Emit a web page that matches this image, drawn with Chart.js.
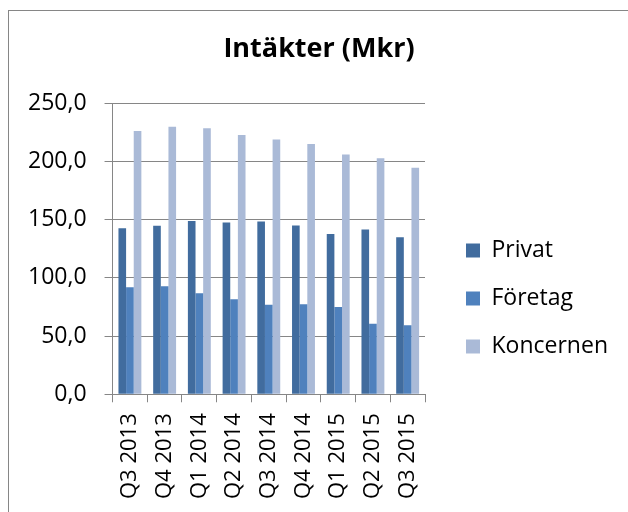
<!DOCTYPE html>
<html>
<head>
<meta charset="utf-8">
<script src="https://cdn.jsdelivr.net/npm/chart.js@4.4.0/dist/chart.umd.min.js"></script>
<style>
  html, body { margin: 0; padding: 0; background: #fff; }
  #wrap { width: 628px; height: 512px; }
</style>
</head>
<body>
<div id="wrap"><canvas id="intakter" width="628" height="512"></canvas></div>
<script>
// kvartal och intäkter i Mkr
const kvartal = ["Q3 2013", "Q4 2013", "Q1 2014", "Q2 2014", "Q3 2014", "Q4 2014", "Q1 2015", "Q2 2015", "Q3 2015"]
const privat = [142.6, 144.9, 148.9, 147.7, 148.6, 145.1, 137.7, 141.7, 134.9]
const foretag = [92.0, 92.9, 86.9, 81.7, 76.9, 77.4, 75.1, 60.6, 59.4]
const koncernen = [226.3, 230.0, 228.6, 222.9, 218.9, 215.1, 206.0, 202.9, 194.6]
const yTicks = [0, 50, 100, 150, 200, 250]

const gra = '#868686'
const typsnitt = '"Open Sans", "Noto Sans", sans-serif'

/* ram runt diagrammet */
const ram = {
  id: 'ram',
  beforeDraw(chart) {
    const ctx = chart.ctx
    ctx.save()
    ctx.fillStyle = '#fff'
    ctx.fillRect(0, 0, chart.width, chart.height)
    ctx.strokeStyle = gra
    ctx.lineWidth = 1
    ctx.strokeRect(8.5, 10.5, 800, 800)
    ctx.restore()
  }
}

/* flytta förklaringen dit den står i originalet */
const flyttaLegend = {
  id: 'flyttaLegend',
  afterLayout(chart) {
    const lg = chart.legend
    const h = lg.bottom - lg.top
    lg.left = 441
    lg.right = 628
    lg.top = 214
    lg.bottom = 214 + h
  }
}

const data = {
  labels: kvartal,
  datasets: [
    { label: 'Privat', data: privat, backgroundColor: '#416C9E' },
    { label: 'Företag', data: foretag, backgroundColor: '#4F81BD' },
    { label: 'Koncernen', data: koncernen, backgroundColor: '#AABAD7' }
  ]
}

const config = {
  type: 'bar',
  data: data,
  plugins: [ram, flyttaLegend],
  options: {
    responsive: false,
    animation: false,
    events: [],
    datasets: { bar: { categoryPercentage: 0.66, barPercentage: 1.0 } },
    layout: { padding: { left: 10, right: 0, top: 0, bottom: 2 } },
    plugins: {
      tooltip: { enabled: false },
      title: {
        display: true,
        text: 'Intäkter (Mkr)',
        color: '#000',
        font: { family: typsnitt, size: 27, weight: 'bold' },
        padding: { top: 33, bottom: 38 }
      },
      legend: {
        position: 'right',
        align: 'start',
        maxWidth: 160,
        labels: {
          color: '#000',
          font: { family: typsnitt, size: 23 },
          boxWidth: 14,
          boxHeight: 14,
          padding: 25
        }
      }
    },
    scales: {
      x: {
        grid: { drawOnChartArea: false, drawTicks: true, tickLength: 8, color: gra },
        border: { color: gra },
        ticks: {
          color: '#000',
          font: { family: typsnitt, size: 22 },
          minRotation: 90,
          maxRotation: 90,
          padding: 11
        }
      },
      y: {
        min: 0,
        max: 250,
        afterBuildTicks(scale) {
          scale.ticks = yTicks.map(v => ({ value: v }))
        },
        grid: { color: gra, tickLength: 8 },
        border: { color: gra },
        ticks: {
          color: '#000',
          font: { family: typsnitt, size: 23 },
          padding: 18,
          callback: v => v.toFixed(1).replace('.', ',')
        }
      },
      // tom axel som ger luft mellan diagramytan och förklaringen
      luft: {
        position: 'right',
        axis: 'y',
        grid: { display: false },
        border: { display: false },
        ticks: { display: false },
        afterFit(scale) { scale.width = 43 }
      }
    }
  }
}

const diagram = new Chart(document.getElementById('intakter'), config)
</script>
</body>
</html>
